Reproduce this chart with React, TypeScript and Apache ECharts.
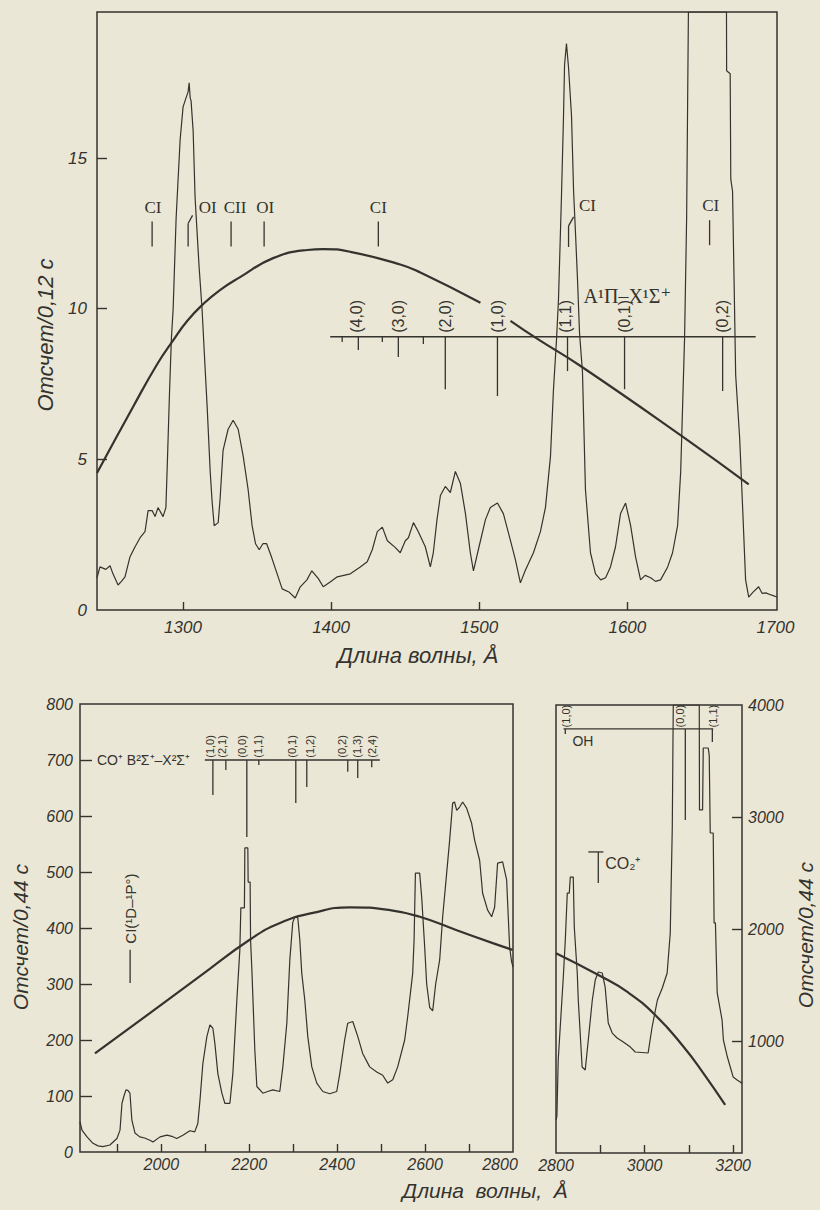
import React, { useEffect, useRef } from "react";
import * as echarts from "echarts";

const INK = "#34332e";
const BG = "#ebe7d6";
const SANS = '"Liberation Sans", Arial, sans-serif';
const SERIF = '"Liberation Serif", "DejaVu Serif", serif';

// ---------- top panel (1242–1701 Å, counts / 0.12 s) ----------
const farUvSpectrum: number[][] = [
  [1242.0, 1.07], [1244.0, 1.43], [1248.0, 1.35], [1250.8, 1.47], [1252.8, 1.2], [1256.2, 0.83],
  [1258.5, 0.95], [1260.9, 1.1], [1264.3, 1.77], [1267.7, 2.1], [1271.1, 2.4], [1274.4, 2.6],
  [1276.5, 3.3], [1279.2, 3.3], [1281.2, 3.1], [1283.2, 3.4], [1286.6, 3.1], [1288.5, 3.4],
  [1289.5, 4.9], [1291.0, 7.3], [1292.2, 9.0], [1293.4, 10.0], [1295.4, 13.0], [1298.1, 15.6],
  [1300.1, 16.7], [1302.1, 17.0], [1303.5, 17.2], [1304.2, 17.5], [1304.9, 17.0], [1305.5, 16.9],
  [1306.9, 15.9], [1308.2, 13.7], [1310.9, 11.4], [1312.9, 10.0], [1315.0, 8.0], [1316.3, 6.8],
  [1318.4, 4.6], [1319.7, 3.6], [1321.1, 2.8], [1323.8, 2.9], [1325.1, 3.7], [1327.1, 5.3],
  [1330.5, 6.0], [1333.9, 6.3], [1337.3, 6.0], [1340.7, 5.1], [1344.0, 4.0], [1346.7, 2.8],
  [1349.0, 2.2], [1351.5, 2.0], [1354.0, 2.2], [1356.5, 2.2], [1359.5, 1.8], [1363.6, 1.2],
  [1367.0, 0.7], [1371.5, 0.6], [1375.8, 0.4], [1379.2, 0.77], [1383.7, 1.0], [1387.0, 1.3],
  [1391.3, 1.05], [1394.7, 0.77], [1399.4, 0.93], [1404.2, 1.1], [1413.0, 1.2], [1419.7, 1.43],
  [1424.4, 1.6], [1427.8, 2.0], [1431.2, 2.6], [1434.6, 2.75], [1438.0, 2.3], [1443.4, 2.07],
  [1446.7, 1.9], [1450.1, 2.3], [1452.2, 2.4], [1455.6, 2.9], [1458.9, 2.6], [1463.6, 2.1],
  [1467.0, 1.43], [1469.0, 1.9], [1471.5, 3.0], [1473.8, 3.8], [1477.1, 4.1], [1480.5, 3.9],
  [1483.9, 4.6], [1487.3, 4.2], [1490.7, 3.2], [1494.0, 1.9], [1496.1, 1.3], [1499.4, 2.0],
  [1504.2, 3.0], [1507.5, 3.4], [1512.3, 3.55], [1516.3, 3.2], [1521.1, 2.3], [1524.4, 1.67],
  [1527.8, 0.9], [1531.2, 1.33], [1536.6, 1.9], [1541.3, 2.6], [1544.7, 3.4], [1548.1, 5.1],
  [1550.1, 7.3], [1552.2, 9.0], [1553.5, 10.3], [1555.5, 13.7], [1556.9, 16.4], [1557.6, 18.1],
  [1558.9, 18.8], [1560.3, 18.0], [1562.3, 16.4], [1563.7, 13.9], [1565.0, 12.5], [1566.4, 10.9],
  [1567.7, 9.2], [1569.7, 7.9], [1571.7, 4.0], [1575.1, 1.9], [1578.5, 1.2], [1582.0, 1.0],
  [1585.3, 1.07], [1588.6, 1.43], [1592.0, 2.1], [1595.4, 3.2], [1598.8, 3.55], [1602.2, 2.8],
  [1605.5, 1.77], [1608.9, 1.0], [1612.0, 1.15], [1615.7, 1.07], [1619.0, 0.95], [1622.4, 1.0],
  [1627.2, 1.43], [1630.5, 1.9], [1633.9, 2.8], [1636.0, 4.6], [1637.3, 6.8], [1638.6, 9.0],
  [1640.0, 13.0], [1641.2, 19.85], [1666.9, 19.85], [1667.0, 17.9], [1669.4, 17.8], [1669.8, 14.3],
  [1671.0, 13.9], [1672.0, 11.0], [1673.1, 7.8], [1675.8, 5.7], [1677.8, 3.4], [1679.8, 1.0],
  [1681.9, 0.43], [1685.0, 0.6], [1688.6, 0.77], [1691.0, 0.55], [1693.4, 0.57], [1697.0, 0.5],
  [1701.0, 0.43],
];
const farUvResponse: (number | string)[][] = [
  [1242, 4.55], [1266.3, 6.74], [1282.5, 8.15], [1293.4, 8.95], [1303.0, 9.6], [1313.6, 10.15],
  [1325.0, 10.62], [1338.6, 11.05], [1360.9, 11.68], [1383.9, 11.95], [1394.7, 11.98],
  [1413, 11.89], [1446.7, 11.47], [1460.3, 11.2], [1500.8, 10.2],
  [1510, "-"],
  [1521.1, 9.6], [1539.3, 9.0], [1568.4, 8.1], [1638, 5.73], [1681.9, 4.17],
];
const topXLabels = [1300, 1400, 1500, 1600, 1700];
const topXTicks = [1300, 1400, 1500, 1600];
const topYLabels = [0, 5, 10, 15];
const topYTicks = [5, 10, 15];

// atomic lines: label text, label position, marker
const atomNames = ["CI", "OI", "CII", "OI", "CI", "CI", "CI"];
const atomLabelWl = [1279.8, 1316.8, 1335.2, 1355.5, 1431.9, 1573.1, 1656.2];
const atomLabelY = [13.37, 13.37, 13.37, 13.37, 13.37, 13.43, 13.43];
const atomMarks: number[][] = [
  [1279.2, 12.07, 1279.2, 12.9],
  [1303.5, 12.07, 1303.5, 12.83], [1303.5, 12.83, 1306.5, 13.1],
  [1332.5, 12.07, 1332.5, 12.9],
  [1354.8, 12.07, 1354.8, 12.9],
  [1431.9, 12.07, 1431.9, 12.9],
  [1560.3, 12.05, 1560.3, 12.75], [1560.3, 12.75, 1563.7, 13.05],
  [1655.5, 12.11, 1655.5, 12.94],
];
// CO Fourth positive A¹Π–X¹Σ⁺ bands
const coBandNames = ["(4,0)", "(3,0)", "(2,0)", "(1,0)", "(1,1)", "(0,1)", "(0,2)"];
const coBandLabelWl = [1417, 1445.4, 1477, 1512.3, 1558.2, 1598, 1664.3];
const coBandMarks: number[][] = [
  [1399.4, 9.07, 1686.6, 9.07],
  [1407.5, 9.07, 1407.5, 8.9], [1418.4, 9.07, 1418.4, 8.63], [1434.6, 9.07, 1434.6, 8.9],
  [1445.4, 9.07, 1445.4, 8.4], [1462.3, 9.07, 1462.3, 8.83], [1477.1, 9.07, 1477.1, 7.33],
  [1512.3, 9.07, 1512.3, 7.1], [1559.6, 9.07, 1559.6, 7.93], [1598.1, 9.07, 1598.1, 7.33],
  [1664.3, 9.07, 1664.3, 7.27],
];

// ---------- bottom-left panel (1815–2800 Å, counts / 0.44 s) ----------
const midUvSpectrum: number[][] = [
  [1815, 54], [1819.5, 39], [1831, 27], [1844.5, 15.5], [1856, 11], [1867, 9.5], [1883, 12.5],
  [1899, 24], [1906, 39], [1910.5, 87], [1915, 100], [1919.5, 111], [1924, 110], [1928.6, 105],
  [1933, 57], [1940, 34], [1951, 27], [1962, 25], [1974, 21], [1981, 18], [1997, 27], [2013, 30],
  [2024, 28], [2035, 24], [2049, 30], [2065, 38], [2076, 36], [2083, 51], [2088, 93], [2094.5, 158],
  [2103.6, 206], [2110.5, 227], [2117.3, 221], [2121.8, 194], [2128.6, 140], [2137.7, 105],
  [2144.5, 87], [2156, 87], [2162.7, 140], [2171.8, 271], [2178.6, 361], [2180.9, 436],
  [2189, 436], [2190, 543], [2196.8, 543], [2197.5, 482], [2202, 482], [2203, 379], [2206, 325],
  [2212.7, 182], [2217.3, 117], [2231, 105], [2242, 108], [2253.6, 111], [2269.5, 108],
  [2276.4, 152], [2285.5, 230], [2292.3, 343], [2299, 410], [2304, 420], [2310.5, 418],
  [2315, 379], [2319.5, 319], [2326.4, 271], [2333.2, 206], [2342.3, 152], [2353.6, 123],
  [2367.3, 108], [2383, 104], [2399, 108], [2406, 140], [2417, 200], [2424, 230], [2435.5, 233],
  [2447, 206], [2458, 176], [2474, 152], [2490, 143], [2503.6, 137], [2515, 123], [2526.4, 129],
  [2537.7, 152], [2553.6, 200], [2560.5, 242], [2571.8, 319], [2575, 379], [2578, 498],
  [2587.7, 498], [2592.3, 455], [2599.1, 366], [2603.6, 300], [2610.5, 258], [2617.3, 252],
  [2624.1, 300], [2633.2, 343], [2640, 420], [2649.1, 498], [2655.9, 557], [2662.7, 623],
  [2667, 625], [2672, 610], [2678.6, 616], [2685.5, 625], [2694.5, 614], [2705.9, 587],
  [2712.7, 557], [2724.1, 521], [2730.9, 462], [2742.3, 432], [2751.4, 420], [2758.2, 437],
  [2765, 516], [2776.4, 518], [2785.5, 486], [2792.3, 366], [2796.8, 340], [2800, 330],
];
const midUvResponse: number[][] = [
  [1849, 176], [1974, 248], [2088, 314], [2201, 379], [2270, 409], [2345, 427], [2429, 437],
  [2520, 432], [2588, 420], [2672, 396], [2754, 373], [2799, 361],
];
const midXLabels = [2000, 2200, 2400, 2600, 2800];
const midXTicks = [1900, 2000, 2100, 2200, 2300, 2400, 2500, 2600, 2700];
const midYTicks = [100, 200, 300, 400, 500, 600, 700];
// CO⁺ first negative B²Σ⁺–X²Σ⁺ bands
const coPlusNames = ["(1,0)", "(2,1)", "(0,0)", "(1,1)", "(0,1)", "(1,2)", "(0,2)", "(1,3)", "(2,4)"];
const coPlusLabelWl = [2110.5, 2139, 2184, 2220, 2297, 2338, 2411, 2445, 2480];
const coPlusMarks: number[][] = [
  [2099, 700, 2497, 700],
  [2117.3, 700, 2117.3, 637.5], [2146.8, 700, 2146.8, 682], [2194.5, 700, 2194.5, 562.5],
  [2221.8, 700, 2221.8, 691], [2305.9, 700, 2305.9, 623], [2330.9, 700, 2330.9, 652],
  [2424.1, 700, 2424.1, 679], [2446.8, 700, 2446.8, 668], [2478.6, 700, 2478.6, 687],
];
const ciMark: number[][] = [[1929, 302, 1929, 361]];

// ---------- bottom-right panel (2800–3220 Å, counts / 0.44 s) ----------
const nearUvSpectrum: number[][] = [
  [2800, 295], [2802, 324], [2805, 830], [2816.5, 1571], [2821, 1902], [2825.5, 2321],
  [2830, 2321], [2832.3, 2464], [2839, 2464], [2841.3, 2018], [2845, 1786], [2848, 1607],
  [2850.3, 1366], [2859, 768], [2866, 741], [2872.9, 1009], [2882, 1366], [2888.7, 1545],
  [2895.5, 1616], [2904.5, 1607], [2911, 1482], [2918, 1161], [2927, 1071], [2938, 1027],
  [2952, 991], [2968, 946], [2979, 902], [3008, 893], [3017, 1125], [3029, 1366], [3040, 1473],
  [3051, 1607], [3058, 1964], [3062.6, 2911], [3064.8, 4000], [3123.5, 4000], [3124, 3063],
  [3131, 3063], [3132.5, 3616], [3143.8, 3616], [3146, 3550], [3148.3, 2857], [3155, 2857],
  [3157, 2054], [3160, 2054], [3164, 1429], [3175, 1188], [3178, 1009], [3187, 857],
  [3193.5, 768], [3200, 679], [3209, 652], [3216, 634], [3220, 620],
];
const nearUvResponse: number[][] = [
  [2800, 1783], [2900, 1580], [2960.3, 1440], [3024, 1232], [3088, 949], [3133, 711], [3182, 429],
];
const nearXLabels = [2800, 3000, 3200];
const nearXTicks = [2900, 3000, 3100, 3200];
const nearYLabels = [1000, 2000, 3000, 4000];
const nearYTicks = [1000, 2000, 3000];
// OH A–X bands
const ohNames = ["(1,0)", "(0,0)", "(1,1)"];
const ohLabelWl = [2823, 3081, 3155];
const ohMarks: number[][] = [
  [2817, 3786, 3155, 3786],
  [2821, 3786, 2821, 3741], [3092, 3786, 3092, 2973], [3153, 3786, 3153, 3670],
];
const co2Marks: number[][] = [[2873, 2688, 2907, 2688], [2895.5, 2688, 2895.5, 2411]];

function segSeries(xi: number, data: number[][], width = 1.3) {
  return {
    type: "custom",
    xAxisIndex: xi,
    yAxisIndex: xi,
    silent: true,
    z: 5,
    data,
    encode: { x: [0, 2], y: [1, 3] },
    renderItem: (_p: any, api: any) => {
      const a = api.coord([api.value(0), api.value(1)]);
      const b = api.coord([api.value(2), api.value(3)]);
      return {
        type: "line",
        shape: { x1: a[0], y1: a[1], x2: b[0], y2: b[1] },
        style: { stroke: INK, lineWidth: width },
      };
    },
  };
}

function textSeries(
  xi: number,
  xs: number[],
  ys: number[],
  texts: string[],
  o: { size: number; family: string; rotate?: boolean; align?: string; italic?: boolean }
) {
  return {
    type: "custom",
    xAxisIndex: xi,
    yAxisIndex: xi,
    silent: true,
    z: 6,
    data: xs.map((x, i) => [x, ys[i]]),
    renderItem: (params: any, api: any) => {
      const p = api.coord([api.value(0), api.value(1)]);
      const align = o.align || "center";
      return {
        type: "text",
        x: p[0],
        y: p[1],
        rotation: o.rotate ? Math.PI / 2 : 0,
        style: {
          text: texts[params.dataIndex],
          fontSize: o.size,
          fontFamily: o.family,
          fontStyle: o.italic ? "italic" : "normal",
          fill: INK,
          align,
          verticalAlign: "middle",
          textAlign: align,
          textVerticalAlign: "middle",
        },
      };
    },
  };
}

function lineSeries(xi: number, data: any[], width: number, smooth = false) {
  return {
    type: "line",
    xAxisIndex: xi,
    yAxisIndex: xi,
    data,
    smooth,
    symbol: "none",
    showSymbol: false,
    connectNulls: false,
    clip: true,
    lineStyle: { color: INK, width },
    z: smooth ? 4 : 3,
  };
}

const labelStyle = (size: number) => ({
  color: INK,
  fontSize: size,
  fontStyle: "italic",
  fontFamily: SANS,
});
const plain = (v: number) => String(v);

function buildOption() {
  const tick = (vals: number[], len: number) => ({
    show: true,
    inside: true,
    length: len,
    customValues: vals,
    lineStyle: { color: INK, width: 1.4 },
  });
  const gridBase = { show: true, borderColor: INK, borderWidth: 1.5, backgroundColor: "transparent" };
  return {
    animation: false,
    backgroundColor: BG,
    grid: [
      { ...gridBase, left: 97, top: 12, width: 680, height: 598 },
      { ...gridBase, left: 80, top: 704, width: 433, height: 448 },
      { ...gridBase, left: 556, top: 705, width: 186, height: 448 },
    ],
    xAxis: [
      {
        type: "value", gridIndex: 0, min: 1242, max: 1701,
        axisLine: { show: false }, splitLine: { show: false },
        axisTick: tick(topXTicks, 8),
        axisLabel: { ...labelStyle(17), margin: 9, customValues: topXLabels, formatter: plain },
      },
      {
        type: "value", gridIndex: 1, min: 1815, max: 2800,
        axisLine: { show: false }, splitLine: { show: false },
        axisTick: tick(midXTicks, 8),
        axisLabel: {
          ...labelStyle(16), margin: 4, customValues: midXLabels,
          formatter: (v: number) => (v === 2800 ? "{s|2800}" : String(v)),
          rich: { s: { ...labelStyle(16), padding: [0, 26, 0, 0] } },
        },
      },
      {
        type: "value", gridIndex: 2, min: 2800, max: 3220,
        axisLine: { show: false }, splitLine: { show: false },
        axisTick: tick(nearXTicks, 8),
        axisLabel: { ...labelStyle(16), margin: 4, customValues: nearXLabels, formatter: plain },
      },
    ],
    yAxis: [
      {
        type: "value", gridIndex: 0, min: 0, max: 19.85,
        axisLine: { show: false }, splitLine: { show: false },
        axisTick: tick(topYTicks, 10),
        axisLabel: { ...labelStyle(17), margin: 10, customValues: topYLabels, formatter: plain },
      },
      {
        type: "value", gridIndex: 1, min: 0, max: 800, interval: 100,
        axisLine: { show: false }, splitLine: { show: false },
        axisTick: tick(midYTicks, 12),
        axisLabel: { ...labelStyle(16), margin: 7, formatter: plain },
      },
      {
        type: "value", gridIndex: 2, min: 0, max: 4000, position: "right",
        axisLine: { show: false }, splitLine: { show: false },
        axisTick: tick(nearYTicks, 10),
        axisLabel: { ...labelStyle(16), margin: 6, customValues: nearYLabels, formatter: plain },
      },
    ],
    series: [
      // top panel
      lineSeries(0, farUvSpectrum, 1.2),
      lineSeries(0, farUvResponse, 2.2, true),
      segSeries(0, atomMarks, 1.3),
      segSeries(0, coBandMarks, 1.3),
      textSeries(0, atomLabelWl, atomLabelY, atomNames, { size: 17, family: SERIF }),
      textSeries(0, coBandLabelWl, coBandLabelWl.map(() => 9.2), coBandNames, {
        size: 16, family: SANS, rotate: true, align: "left",
      }),
      textSeries(0, [1570.4], [10.43], ["A¹Π–X¹Σ⁺"], { size: 20, family: SERIF, align: "left" }),
      // bottom-left panel
      lineSeries(1, midUvSpectrum, 1.2),
      lineSeries(1, midUvResponse, 2.2, true),
      segSeries(1, coPlusMarks, 1.3),
      segSeries(1, ciMark, 1.3),
      textSeries(1, coPlusLabelWl, coPlusLabelWl.map(() => 704), coPlusNames, {
        size: 11, family: SANS, rotate: true, align: "left",
      }),
      textSeries(1, [1853.6], [700], ["CO⁺ B²Σ⁺–X²Σ⁺"], { size: 14, family: SANS, align: "left" }),
      textSeries(1, [1929], [372], ["CI(¹D–¹P°)"], { size: 15, family: SANS, rotate: true, align: "left" }),
      // bottom-right panel
      lineSeries(2, nearUvSpectrum, 1.2),
      lineSeries(2, nearUvResponse, 2.2, true),
      segSeries(2, ohMarks, 1.3),
      segSeries(2, co2Marks, 1.3),
      textSeries(2, ohLabelWl, ohLabelWl.map(() => 3800), ohNames, {
        size: 11, family: SANS, rotate: true, align: "left",
      }),
      textSeries(2, [2837], [3679], ["OH"], { size: 14, family: SANS, align: "left" }),
      textSeries(2, [2911], [2589], ["CO₂⁺"], { size: 16, family: SANS, align: "left" }),
    ],
    graphic: [
      {
        type: "text", x: 45, y: 335, rotation: Math.PI / 2,
        style: { text: "Отсчет/0,12 с", fontSize: 22, fontStyle: "italic", fontFamily: SANS, fill: INK,
          align: "center", verticalAlign: "middle", textAlign: "center", textVerticalAlign: "middle" },
      },
      {
        type: "text", x: 418, y: 655,
        style: { text: "Длина волны, Å", fontSize: 22, fontStyle: "italic", fontFamily: SANS, fill: INK,
          align: "center", verticalAlign: "middle", textAlign: "center", textVerticalAlign: "middle" },
      },
      {
        type: "text", x: 20, y: 937, rotation: Math.PI / 2,
        style: { text: "Отсчет/0,44 с", fontSize: 21, fontStyle: "italic", fontFamily: SANS, fill: INK,
          align: "center", verticalAlign: "middle", textAlign: "center", textVerticalAlign: "middle" },
      },
      {
        type: "text", x: 805, y: 935, rotation: Math.PI / 2,
        style: { text: "Отсчет/0,44 с", fontSize: 21, fontStyle: "italic", fontFamily: SANS, fill: INK,
          align: "center", verticalAlign: "middle", textAlign: "center", textVerticalAlign: "middle" },
      },
      {
        type: "text", x: 485, y: 1190,
        style: { text: "Длина  волны,  Å", fontSize: 21, fontStyle: "italic", fontFamily: SANS, fill: INK,
          align: "center", verticalAlign: "middle", textAlign: "center", textVerticalAlign: "middle" },
      },
    ],
  };
}

export default function App() {
  const ref = useRef<HTMLDivElement>(null);
  useEffect(() => {
    if (!ref.current) return;
    const chart = echarts.init(ref.current, null, { renderer: "svg" });
    chart.setOption(buildOption() as any);
    return () => chart.dispose();
  }, []);
  return (
    <div
      ref={ref}
      style={{ position: "fixed", left: 0, top: 0, width: 820, height: 1210, background: BG }}
    />
  );
}
